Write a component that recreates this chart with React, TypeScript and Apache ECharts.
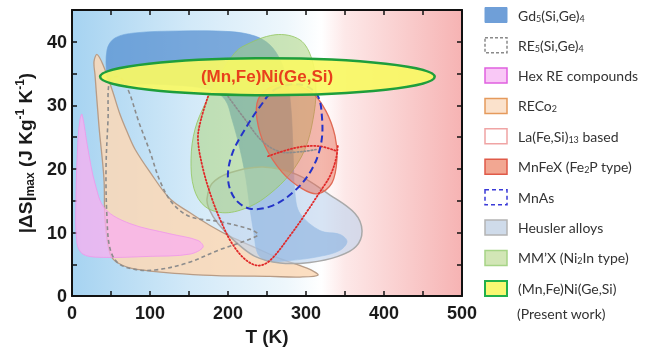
import React, { useEffect, useRef } from 'react';
import * as echarts from 'echarts';

// ---- axis ticks / labels ----
const X_LABELS = [0, 100, 200, 300, 400, 500];
const Y_LABELS = [0, 10, 20, 30, 40];
const X_MAX = 500;
const Y_MAX = 45;

// ---- region outlines, [T (K), |dS|max (J/kg K)] ----
const RECO2 = [
  [32.1, 38.0], [39.7, 36.4], [51.3, 32.5], [61.5, 28.6], [71.8, 25.5], [80.8, 23.1],
  [100, 19.5], [125.6, 15.3], [151.3, 13.1], [176.9, 11.1], [202.6, 9.4], [237.2, 7.5],
  [266.7, 5.9], [301.3, 4.4], [315.4, 3.3], [292.3, 3.0], [253.8, 3.1], [168, 3.3],
  [83.3, 4.2], [59, 5.2], [48.7, 6.7], [42.3, 12.2], [41, 18.4], [34.6, 26.7],
  [29.5, 34.8], [28.2, 36.9],
];
const HEX_RE = [
  [12.8, 28.6], [20.5, 23.1], [29.5, 17.7], [42.3, 13.75], [74.4, 11.4], [125.6, 9.8],
  [161.5, 8.75], [168, 7.7], [151, 6.6], [100, 6.25], [35.9, 6.1], [14.1, 6.6],
  [6.4, 8.3], [5.1, 15.3], [7.7, 24.7], [10.3, 27.8],
];
const GD = [
  [44.9, 34.1], [44.9, 38.75], [55.1, 40.6], [80.8, 41.4], [138.5, 41.7], [202.6, 41.6],
  [234.6, 40.9], [253.8, 39.5], [266.7, 37.2], [275.6, 34.1], [280.8, 29.4], [283.3, 23.1],
  [285.9, 16.1], [292.3, 13.0], [317.9, 10.3], [343.6, 9.7], [352.6, 8.6], [343.6, 7.2],
  [317.9, 6.25], [279.5, 5.6], [251.3, 5.5], [238.5, 6.6], [233.3, 9.8], [228.2, 13.75],
  [223.1, 18.4], [215.4, 23.1], [205.1, 27.8], [196.2, 30.9], [176.9, 32.5], [112.8, 33.3],
  [48.7, 33.4],
];
const HEUSLER = [
  [173.1, 15.3], [179.5, 17.7], [202.6, 19.4], [244.9, 20.3], [288.5, 19.1], [330.8, 15.9],
  [362.8, 13.0], [371.8, 10.3], [364.1, 7.8], [341, 6.25], [305.1, 5.3], [266.7, 5.2],
  [234.6, 6.25], [209, 8.6], [187.2, 11.4], [175.6, 13.75],
];
const MMX = [
  [217.9, 39.2], [260.3, 41.1], [292.3, 40.3], [307.7, 37.2], [312.8, 32.5], [309, 27.8],
  [298.7, 23.1], [279.5, 19.2], [253.8, 16.1], [228.2, 14.1], [196.2, 13.1], [170.5, 14.1],
  [156.4, 16.9], [152.6, 21.6], [157.7, 26.25], [170.5, 30.2], [189.7, 34.8], [205.1, 37.7],
];
const MNFEX = [
  [238.5, 30.9], [237.2, 27.8], [247.4, 23.6], [269.2, 19.5], [294.9, 16.9], [315.4, 16.1],
  [333.3, 17.8], [339.7, 21.6], [337.2, 25.2], [325.6, 29.1], [307.7, 32.0], [279.5, 33.3],
  [253.8, 32.8],
];
const RE5_LOOP = [
  [48.7, 34.1], [46.2, 27.8], [43.6, 20.0], [44.9, 12.2], [48.7, 7.5], [59, 5.2],
  [80.8, 4.2], [106.4, 4.1], [147.4, 5.2], [189.7, 7.3], [230.8, 9.1], [238.5, 9.7],
  [228.2, 10.5], [189.7, 11.7], [151.3, 12.5], [128.2, 14.7], [112.8, 18.1], [100, 22.7],
  [85.9, 27.3], [71.8, 32.5], [61.5, 34.4],
];
const RE5_DOT = [
  [200, 31.4], [221.8, 27.8], [243.6, 24.4], [266.7, 22.7], [292.3, 22.7], [315.4, 23.1],
];
const LAFESI_OUTER = [
  [174.4, 31.4], [165.4, 27.8], [161.5, 24.7], [168, 20.0], [179.5, 15.3], [192.3, 11.4],
  [205.1, 8.3], [221.8, 5.8], [238.5, 4.8], [253.8, 5.6], [279.5, 9.5], [301.3, 13.3],
  [317.9, 16.4], [330.8, 18.9], [338.5, 21.6], [341, 23.9],
];
const LAFESI_ARC = [[251.3, 22.0], [285.9, 23.3], [315.4, 23.6], [339.7, 22.8]];
const MNAS = [
  [260.3, 32.5], [292.3, 33.3], [314.1, 31.7], [320.5, 28.1], [319.2, 23.9], [307.7, 20.0],
  [285.9, 16.6], [256.4, 14.2], [228.2, 13.75], [209, 15.3], [200, 18.4], [205.1, 22.3],
  [221.8, 26.25], [241, 29.8],
];
const PRESENT_T = [36, 465];
const PRESENT_S = [31.6, 37.4];
const PRESENT_LABEL_AT = [250, 34.5];

const NAMES = [
  'Gd5(Si,Ge)4', 'RE5(Si,Ge)4', 'Hex RE compounds', 'RECo2', 'La(Fe,Si)13 based',
  'MnFeX (Fe2P type)', 'MnAs', 'Heusler alloys', 'MM’X (Ni2In type)', '(Mn,Fe)Ni(Ge,Si)',
];
const RICH_NAMES: Record<string, string> = {
  'Gd5(Si,Ge)4': '{t|Gd}{s|5}{t|(Si,Ge)}{s|4}',
  'RE5(Si,Ge)4': '{t|RE}{s|5}{t|(Si,Ge)}{s|4}',
  'RECo2': '{t|RECo}{s|2}',
  'La(Fe,Si)13 based': '{t|La(Fe,Si)}{s|13}{t| based}',
  'MnFeX (Fe2P type)': '{t|MnFeX (Fe}{s|2}{t|P type)}',
  'MM’X (Ni2In type)': '{t|MM’X (Ni}{s|2}{t|In type)}',
};

const LEGEND_STYLE: Record<string, any> = {
  'Gd5(Si,Ge)4': { color: '#6f9fd8', borderColor: '#6f9fd8', borderWidth: 1 },
  'RE5(Si,Ge)4': { color: '#ffffff', borderColor: '#8a8a8a', borderWidth: 1.5, borderType: [3, 2] },
  'Hex RE compounds': { color: '#f9c8f6', borderColor: '#e060e0', borderWidth: 1.5 },
  'RECo2': { color: '#fbe2cc', borderColor: '#e59a5c', borderWidth: 1.5 },
  'La(Fe,Si)13 based': { color: '#ffffff', borderColor: '#f0a4a4', borderWidth: 1.5 },
  'MnFeX (Fe2P type)': { color: '#f2a792', borderColor: '#e05a48', borderWidth: 1.5 },
  'MnAs': { color: '#ffffff', borderColor: '#3a3ad8', borderWidth: 1.5, borderType: [4, 3] },
  'Heusler alloys': { color: '#cfdbea', borderColor: '#b4b4b4', borderWidth: 1.5 },
  'MM’X (Ni2In type)': { color: '#d2e6b6', borderColor: '#a6d486', borderWidth: 1.5 },
  '(Mn,Fe)Ni(Ge,Si)': { color: '#f8f872', borderColor: '#22b04a', borderWidth: 2 },
};

function shapeSeries(name: string, parts: any[], z: number) {
  return {
    type: 'custom',
    name,
    coordinateSystem: 'cartesian2d',
    silent: true,
    z,
    itemStyle: LEGEND_STYLE[name],
    data: [[parts[0].pts[0][0], parts[0].pts[0][1]]],
    renderItem: (_params: any, api: any) => {
      return {
        type: 'group',
        children: parts.map((p) => ({
          type: p.closed ? 'polygon' : 'polyline',
          shape: { points: p.pts.map((d: number[]) => api.coord(d)), smooth: p.smooth ?? 0.35 },
          style: p.style,
        })),
      };
    },
  };
}

export default function App() {
  const ref = useRef<HTMLDivElement>(null);
  useEffect(() => {
    if (!ref.current) return;
    const chart = echarts.init(ref.current, undefined, { renderer: 'svg' });
    const axisFont = { fontFamily: 'Liberation Sans', fontWeight: 'bold' as const, color: '#1a1a1a' };
    const axisLine = { show: true, onZero: false, lineStyle: { color: '#111', width: 2 } };
    const axisTick = { show: true, inside: true, length: 5, lineStyle: { color: '#111', width: 1.5 } };

    const series: any[] = [
      shapeSeries('RECo2', [{ pts: RECO2, closed: true, style: { fill: 'rgba(251,216,182,0.85)', stroke: '#b89c86', lineWidth: 1.3 } }], 2),
      shapeSeries('Hex RE compounds', [{ pts: HEX_RE, closed: true, style: { fill: 'rgba(250,175,240,0.75)', stroke: 'rgba(240,150,235,0.8)', lineWidth: 1 } }], 3),
      shapeSeries('Gd5(Si,Ge)4', [{ pts: GD, closed: true, style: { fill: 'rgba(75,135,205,0.68)', stroke: 'rgba(110,165,220,0.6)', lineWidth: 1 } }], 4),
      shapeSeries('Heusler alloys', [{ pts: HEUSLER, closed: true, style: { fill: 'rgba(190,212,238,0.62)', stroke: '#a9a9a9', lineWidth: 1.5 } }], 5),
      shapeSeries('MM’X (Ni2In type)', [{ pts: MMX, closed: true, style: { fill: 'rgba(165,210,115,0.5)', stroke: 'rgba(150,200,100,0.85)', lineWidth: 1 } }], 6),
      shapeSeries('MnFeX (Fe2P type)', [{ pts: MNFEX, closed: true, style: { fill: 'rgba(232,105,82,0.48)', stroke: '#e06a55', lineWidth: 1.3 } }], 7),
      shapeSeries('RE5(Si,Ge)4', [
        { pts: RE5_LOOP, closed: true, style: { fill: 'none', stroke: '#8c8c8c', lineWidth: 1.6, lineDash: [4, 3] } },
        { pts: RE5_DOT, closed: false, style: { fill: 'none', stroke: '#8c8c8c', lineWidth: 1.6, lineDash: [1.5, 2], lineCap: 'round' } },
      ], 8),
      shapeSeries('La(Fe,Si)13 based', [
        { pts: LAFESI_OUTER, closed: false, style: { fill: 'none', stroke: '#e02a2a', lineWidth: 1.8, lineDash: [1.2, 2.2], lineCap: 'round' } },
        { pts: LAFESI_ARC, closed: false, style: { fill: 'none', stroke: '#e02a2a', lineWidth: 1.8, lineDash: [1.2, 2.2], lineCap: 'round' } },
      ], 9),
      shapeSeries('MnAs', [{ pts: MNAS, closed: true, style: { fill: 'none', stroke: '#2433c8', lineWidth: 2, lineDash: [7, 4] } }], 10),
      {
        type: 'custom',
        name: '(Mn,Fe)Ni(Ge,Si)',
        coordinateSystem: 'cartesian2d',
        silent: true,
        z: 11,
        itemStyle: LEGEND_STYLE['(Mn,Fe)Ni(Ge,Si)'],
        data: [[PRESENT_T[0], PRESENT_S[0], PRESENT_T[1], PRESENT_S[1]]],
        renderItem: (_params: any, api: any) => {
          const a = api.coord([PRESENT_T[0], PRESENT_S[0]]);
          const b = api.coord([PRESENT_T[1], PRESENT_S[1]]);
          const c = api.coord(PRESENT_LABEL_AT);
          return {
            type: 'group',
            children: [
              {
                type: 'ellipse',
                shape: { cx: (a[0] + b[0]) / 2, cy: (a[1] + b[1]) / 2, rx: Math.abs(b[0] - a[0]) / 2, ry: Math.abs(b[1] - a[1]) / 2 },
                style: { fill: 'rgba(248,248,100,0.92)', stroke: '#1e9e3c', lineWidth: 2.5 },
              },
              {
                type: 'text',
                x: c[0],
                y: c[1],
                style: {
                  text: '(Mn,Fe)Ni(Ge,Si)', fill: '#e8401c', fontSize: 17, fontWeight: 'bold',
                  fontFamily: 'Liberation Sans', align: 'center', verticalAlign: 'middle',
                },
              },
            ],
          };
        },
      },
    ];

    chart.setOption({
      animation: false,
      grid: {
        left: 72, right: 186, top: 10, bottom: 53, show: true, borderWidth: 0,
        backgroundColor: new echarts.graphic.LinearGradient(0, 0, 1, 0, [
          { offset: 0, color: '#a6d3f1' },
          { offset: 0.3, color: '#d2e9f8' },
          { offset: 0.55, color: '#eef7fc' },
          { offset: 0.64, color: '#ffffff' },
          { offset: 0.7, color: '#fde8e8' },
          { offset: 1, color: '#f6b3b3' },
        ]),
      },
      legend: {
        orient: 'vertical', left: 484, top: 7, padding: 0, itemWidth: 22, itemHeight: 15, itemGap: 13.9,
        icon: 'rect', selectedMode: false,
        data: NAMES.map((n) => ({ name: n, itemStyle: LEGEND_STYLE[n] })),
        formatter: (n: string) => RICH_NAMES[n] || `{t|${n}}`,
        textStyle: {
          fontFamily: 'Lato', fontSize: 14, color: '#333', lineHeight: 15, padding: [0, 0, 0, 6],
          rich: {
            t: { fontFamily: 'Lato', fontSize: 14, color: '#333', lineHeight: 15 },
            s: { fontFamily: 'Lato', fontSize: 9, color: '#333', lineHeight: 15, verticalAlign: 'bottom' },
          },
        },
      },
      graphic: [
        { type: 'text', left: 517, top: 306, style: { text: '(Present work)', fontFamily: 'Lato', fontSize: 14, fill: '#333' } },
      ],
      xAxis: [
        {
          type: 'value', min: 0, max: X_MAX, interval: 50, position: 'bottom',
          axisLine, axisTick, splitLine: { show: false },
          axisLabel: { ...axisFont, fontSize: 18, margin: 8, formatter: (v: number) => (X_LABELS.includes(v) ? String(v) : '') },
          name: 'T (K)', nameLocation: 'middle', nameGap: 28,
          nameTextStyle: { ...axisFont, fontSize: 19, verticalAlign: 'top' },
        },
        {
          type: 'value', min: 0, max: X_MAX, interval: 50, position: 'top',
          axisLine, axisTick, splitLine: { show: false }, axisLabel: { show: false },
        },
      ],
      yAxis: [
        {
          type: 'value', min: 0, max: Y_MAX, interval: 5, position: 'left',
          axisLine, axisTick, splitLine: { show: false },
          axisLabel: { ...axisFont, fontSize: 18, margin: 5, formatter: (v: number) => (Y_LABELS.includes(v) ? String(v) : '') },
          name: '{b||ΔS|}{sub|max}{b| (J Kg}{sup|-1}{b| K}{sup|-1}{b|)}',
          nameLocation: 'middle', nameGap: 34,
          nameTextStyle: {
            ...axisFont, fontSize: 19,
            rich: {
              b: { ...axisFont, fontSize: 19, lineHeight: 22 },
              sub: { ...axisFont, fontSize: 12, lineHeight: 22, verticalAlign: 'bottom' },
              sup: { ...axisFont, fontSize: 12, lineHeight: 22, verticalAlign: 'top' },
            },
          },
        },
        {
          type: 'value', min: 0, max: Y_MAX, interval: 5, position: 'right',
          axisLine, axisTick, splitLine: { show: false }, axisLabel: { show: false },
        },
      ],
      series,
    });
    return () => chart.dispose();
  }, []);
  return <div ref={ref} style={{ position: 'fixed', left: 0, top: 0, width: 648, height: 351 }} />;
}
